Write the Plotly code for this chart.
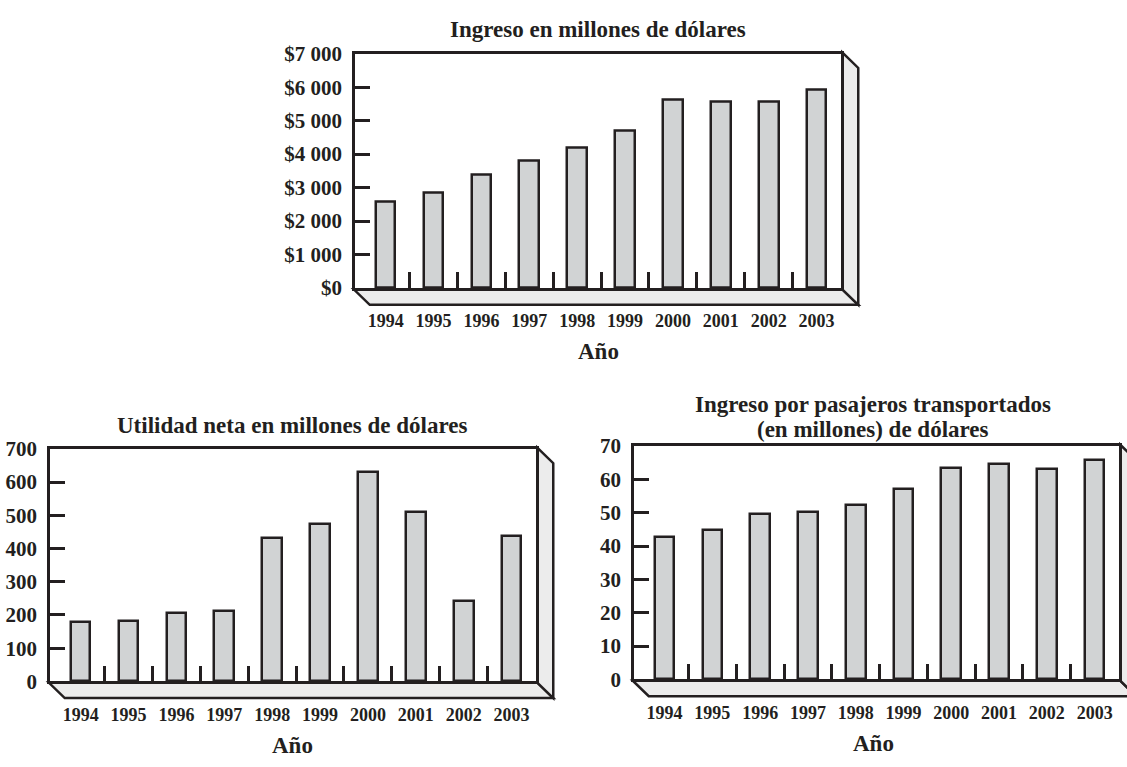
import plotly.graph_objects as go

W, H = 1127, 767

# ---- data -------------------------------------------------------------
years = ["1994", "1995", "1996", "1997", "1998", "1999", "2000", "2001", "2002", "2003"]

ingreso = [2570, 2860, 3400, 3810, 4190, 4700, 5620, 5560, 5560, 5930]
ingreso_ticks = [0, 1000, 2000, 3000, 4000, 5000, 6000, 7000]
ingreso_ticktext = ["$0", "$1 000", "$2 000", "$3 000", "$4 000", "$5 000", "$6 000", "$7 000"]

utilidad = [178, 181, 207, 213, 433, 475, 630, 510, 242, 439]
utilidad_ticks = [0, 100, 200, 300, 400, 500, 600, 700]

pasajeros = [42.8, 44.7, 49.7, 50.1, 52.3, 57.1, 63.4, 64.5, 63.0, 65.7]
pasajeros_ticks = [0, 10, 20, 30, 40, 50, 60, 70]

# ---- styling ----------------------------------------------------------
INK = "#231f20"
BAR_FILL = "#d1d3d4"
SIDE_FILL = "#ececec"
FONT = "Liberation Serif"
LW = 2.5
DEPTH_X, DEPTH_Y = 16, 16
X_RANGE = [-0.64, 9.51]

# plot-area boxes in pixels: left, top, right, bottom
panels = [
    dict(box=(355, 43, 841, 285), y=ingreso, ticks=ingreso_ticks, ticktext=ingreso_ticktext,
         ymax=7000, title=[("Ingreso en millones de dólares", 18)], title_x=598,
         xlabel_y=350, xlabel_x=598),
    dict(box=(50, 451, 536, 691), y=utilidad, ticks=utilidad_ticks,
         ticktext=[str(v) for v in utilidad_ticks], ymax=700,
         title=[("Utilidad neta en millones de dólares", 427)], title_x=292,
         xlabel_y=757, xlabel_x=292),
    dict(box=(634, 448, 1119, 689), y=pasajeros, ticks=pasajeros_ticks,
         ticktext=[str(v) for v in pasajeros_ticks], ymax=70,
         title=[("Ingreso por pasajeros transportados", 405),
                ("(en millones) de dólares", 431)], title_x=873,
         xlabel_y=755, xlabel_x=873),
]


def px(x):
    return x / W


def py(y):
    return 1 - y / H


fig = go.Figure()
shapes = []
annotations = []

for i, p in enumerate(panels):
    n = "" if i == 0 else str(i + 1)
    L, T, R, B = p["box"]
    xa, ya = "xaxis" + n, "yaxis" + n

    fig.add_trace(go.Bar(
        x=list(range(len(years))), y=p["y"], width=0.41,
        marker=dict(color=BAR_FILL, line=dict(color=INK, width=LW)),
        xaxis="x" + n, yaxis="y" + n, showlegend=False, hoverinfo="x+y",
    ))

    fig.update_layout(**{
        xa: dict(
            domain=[px(L), px(R)], range=X_RANGE, anchor="y" + n,
            tickmode="array", tickvals=list(range(len(years))), ticktext=years,
            ticks="", showgrid=False, zeroline=False,
            showline=True, mirror=True, linecolor=INK, linewidth=LW,
            tickfont=dict(family=FONT, size=18, color=INK),
            ticklabelstandoff=15,
            minor=dict(tickmode="array", tickvals=[k + 0.5 for k in range(len(years) - 1)],
                       ticks="inside", ticklen=16, tickwidth=LW, tickcolor=INK,
                       showgrid=False),
            fixedrange=True,
        ),
        ya: dict(
            domain=[py(B), py(T)], range=[0, p["ymax"]], anchor="x" + n,
            tickmode="array", tickvals=p["ticks"], ticktext=p["ticktext"],
            ticks="inside", ticklen=15, tickwidth=LW, tickcolor=INK,
            showgrid=False, zeroline=False,
            showline=True, mirror=True, linecolor=INK, linewidth=LW,
            tickfont=dict(family=FONT, size=21, color=INK),
            ticklabelstandoff=6,
            fixedrange=True,
        ),
    })

    # pseudo-3D floor and right-hand wall (line centres of the frame)
    l, t, r, b = L - LW / 2, T - LW / 2, R + LW / 2, B + LW / 2
    floor = [(l, b), (r, b), (r + DEPTH_X, b + DEPTH_Y), (l + DEPTH_X, b + DEPTH_Y)]
    wall = [(r, t), (r + DEPTH_X, t + DEPTH_Y), (r + DEPTH_X, b + DEPTH_Y), (r, b)]
    for poly in (floor, wall):
        path = "M " + " L ".join(f"{px(x):.5f},{py(y):.5f}" for x, y in poly) + " Z"
        shapes.append(dict(type="path", path=path, xref="paper", yref="paper",
                           fillcolor=SIDE_FILL, line=dict(color=INK, width=LW),
                           layer="below"))

    for text, ty in p["title"]:
        annotations.append(dict(text=f"<b>{text}</b>", x=px(p["title_x"]), y=py(ty),
                                xref="paper", yref="paper", xanchor="center",
                                yanchor="middle", showarrow=False,
                                font=dict(family=FONT, size=23, color=INK)))
    annotations.append(dict(text="<b>Año</b>", x=px(p["xlabel_x"]), y=py(p["xlabel_y"]),
                            xref="paper", yref="paper", xanchor="center",
                            yanchor="middle", showarrow=False,
                            font=dict(family=FONT, size=23, color=INK)))

fig.update_layout(
    width=W, height=H, margin=dict(l=0, r=0, t=0, b=0),
    paper_bgcolor="white", plot_bgcolor="white",
    font=dict(family=FONT, color=INK),
    shapes=shapes, annotations=annotations, bargap=0,
)
fig.update_xaxes(tickfont_weight="bold")
fig.update_yaxes(tickfont_weight="bold")

fig.write_html("out.html")
